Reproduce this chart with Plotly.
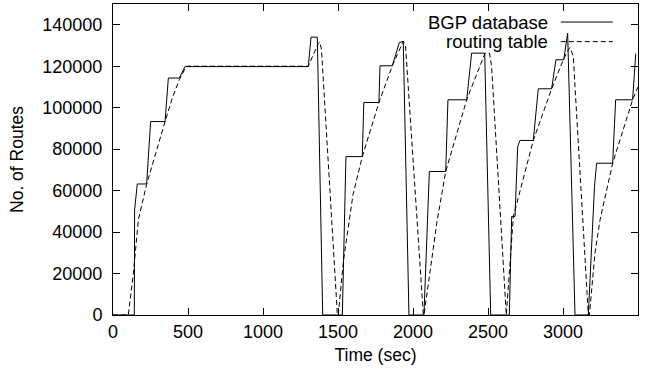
import plotly.graph_objects as go

# BGP database (solid)
bgp_t = [0, 142, 144, 162, 224, 251, 347, 369, 442, 480, 1302, 1320, 1362, 1398,
         1529, 1553, 1662, 1672, 1773, 1780, 1862, 1909, 1935, 1973,
         2073, 2109, 2218, 2233, 2358, 2391, 2478, 2518,
         2642, 2658, 2680, 2698, 2713, 2802, 2835, 2924, 2953, 3005, 3031, 3080,
         3169, 3210, 3224, 3331, 3351, 3464, 3485]
bgp_v = [0, 0, 50700, 63200, 63200, 93300, 93300, 114300, 114300, 119800, 119800, 134000, 134000, 0,
         0, 76400, 76400, 102500, 102500, 120200, 120200, 131400, 132000, 0,
         0, 69200, 69200, 103800, 103800, 126300, 126300, 0,
         0, 47500, 47500, 81200, 84200, 84200, 109100, 109100, 123100, 123100, 136000, 0,
         0, 62000, 73200, 73200, 103800, 103800, 126000]

# routing table (dashed)
rt_t = [0, 102, 136, 169, 224, 285, 347, 395, 442, 489, 1302, 1369, 1378, 1390, 1496,
        1502, 1536, 1600, 1662, 1773, 1862, 1935, 1950, 2069,
        2073, 2109, 2160, 2218, 2358, 2480, 2510, 2524, 2620,
        2622, 2669, 2802, 2924, 3002, 3036, 3047, 3069, 3080, 3169,
        3176, 3213, 3247, 3331, 3464, 3500]
rt_v = [0, 0, 20100, 45900, 63000, 78500, 93300, 104500, 113500, 120000, 120000, 131100, 131700, 128000, 0,
        0, 26000, 58000, 76400, 102500, 120200, 132000, 130000, 0,
        0, 18500, 45000, 69200, 103800, 126300, 126300, 119900, 0,
        0, 47500, 84200, 109100, 123100, 128000, 129000, 124700, 110200, 0,
        0, 29800, 45900, 73200, 103800, 110000]

x_ticks = [0, 500, 1000, 1500, 2000, 2500, 3000, 3500]
y_ticks = [0, 20000, 40000, 60000, 80000, 100000, 120000, 140000]

FONT = "Liberation Sans, Arial, sans-serif"

fig = go.Figure()
fig.add_trace(go.Scatter(x=bgp_t, y=bgp_v, mode="lines", name="BGP database",
                         line=dict(color="black", width=1), showlegend=False))
fig.add_trace(go.Scatter(x=rt_t, y=rt_v, mode="lines", name="routing table",
                         line=dict(color="black", width=1, dash="5px,3px"), showlegend=False))

# gnuplot-style key: text right-aligned, sample line to the right
legend_items = [("BGP database", "solid", 0.942), ("routing table", "5px,3px", 0.879)]
for label, dash, yp in legend_items:
    fig.add_annotation(x=0.832, y=yp, xref="paper", yref="paper", text=label,
                       showarrow=False, xanchor="right", yanchor="middle",
                       font=dict(family=FONT, size=18.5, color="black"))
    fig.add_shape(type="line", xref="paper", yref="paper", x0=0.853, x1=0.952, y0=yp, y1=yp,
                  line=dict(color="black", width=1, dash=dash))

fig.update_layout(
    width=658, height=377,
    margin=dict(l=113, r=20, t=4, b=62),
    paper_bgcolor="white", plot_bgcolor="white",
    font=dict(family=FONT, size=18, color="black"),
    showlegend=False,
)
fig.update_xaxes(range=[0, 3500], tickvals=x_ticks, ticktext=[str(v) for v in x_ticks],
                 ticks="inside", ticklen=7, tickcolor="black", mirror="allticks",
                 showline=True, linecolor="black", linewidth=1, showgrid=False, zeroline=False,
                 title=dict(text="Time (sec)", standoff=8, font=dict(size=17.5)))
fig.update_yaxes(range=[0, 150000], tickvals=y_ticks, ticktext=[str(v) for v in y_ticks],
                 ticks="inside", ticklen=7, tickcolor="black", mirror="allticks",
                 showline=True, linecolor="black", linewidth=1, showgrid=False, zeroline=False,
                 ticklabelstandoff=6,
                 title=dict(text="No. of Routes", standoff=14, font=dict(size=17.5)))

fig.write_html("out.html")
